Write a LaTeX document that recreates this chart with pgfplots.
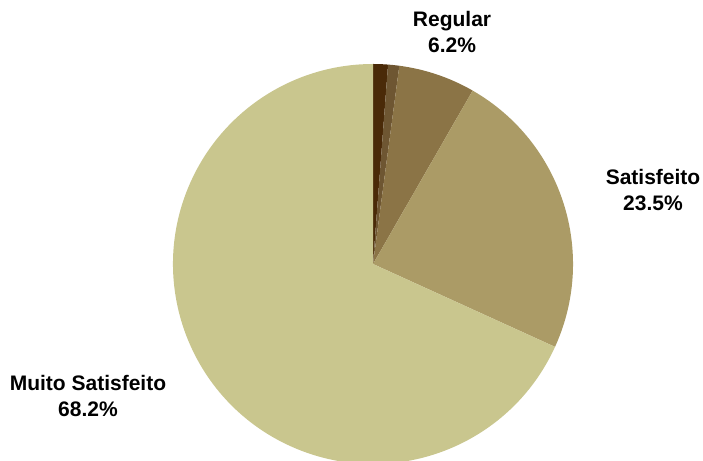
\documentclass[border=0pt]{standalone}
\usepackage{pgfplots}
\usepackage{pgfplotstable}
\pgfplotsset{compat=1.18}
\usepackage{fontspec}
\setmainfont{Liberation Sans}

\definecolor{sl0}{HTML}{4A2A08}
\definecolor{sl1}{HTML}{6E5632}
\definecolor{sl2}{HTML}{8B7446}
\definecolor{sl3}{HTML}{AB9B66}
\definecolor{sl4}{HTML}{C9C68E}

\pgfplotstableread{
idx value
0 1.2
1 0.9
2 6.2
3 23.5
4 68.2
}\piedata

\newcommand\computeangles{%
  \gdef\cum{0}%
  \foreach \i in {0,...,4}{%
    \pgfplotstablegetelem{\i}{value}\of\piedata
    \pgfmathsetmacro\st{90-3.6*\cum}%
    \pgfmathsetmacro\newcum{\cum+\pgfplotsretval}%
    \pgfmathsetmacro\en{90-3.6*\newcum}%
    \expandafter\xdef\csname st\i\endcsname{\st}%
    \expandafter\xdef\csname en\i\endcsname{\en}%
    \xdef\cum{\newcum}%
  }}

\begin{document}
\computeangles
\begin{tikzpicture}
\begin{axis}[
  width=703bp, height=461bp, scale only axis,
  xmin=0, xmax=703, ymin=0, ymax=461,
  hide axis, clip=true,
]
\pgfplotsinvokeforeach{0,...,4}{%
  \fill[sl#1] (axis cs:373,197) -- ++(\csname st#1\endcsname:200bp)
    arc[start angle=\csname st#1\endcsname, end angle=\csname en#1\endcsname, radius=200bp] -- cycle;
}
\node[align=center, font=\fontsize{21bp}{26.5bp}\selectfont\bfseries] at (axis cs:452,429) {Regular\\6.2\%};
\node[align=center, font=\fontsize{21bp}{26.5bp}\selectfont\bfseries] at (axis cs:653,271) {Satisfeito\\23.5\%};
\node[align=center, font=\fontsize{21bp}{26.5bp}\selectfont\bfseries] at (axis cs:88,65) {Muito Satisfeito\\68.2\%};
\end{axis}
\pgfresetboundingbox
\path[use as bounding box] (0,0) rectangle (703bp,461bp);
\end{tikzpicture}
\end{document}
